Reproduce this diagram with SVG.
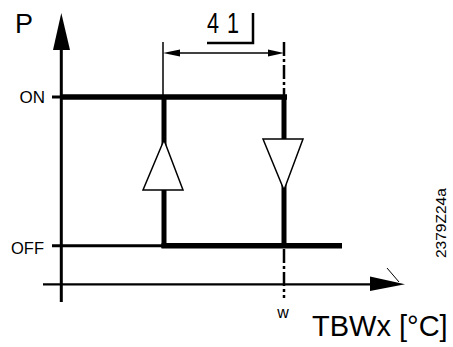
<svg xmlns="http://www.w3.org/2000/svg" width="453" height="347" viewBox="0 0 453 347">
<style>
.t{font-family:"Liberation Sans",Arial,sans-serif;fill:#000}
.thick{stroke:#000;stroke-width:5.5;fill:none}
.thin{stroke:#000;stroke-width:3;fill:none}
.tri{fill:#fff;stroke:#000;stroke-width:1.5}
</style>
<rect width="453" height="347" fill="#fff"/>
<g id="axes">
<line x1="61.3" y1="48" x2="61.3" y2="302" class="thin"/>
<polygon points="61.3,13 53,50 70,50" fill="#000"/>
<line x1="43" y1="284.3" x2="372" y2="284.3" stroke="#000" stroke-width="2.3"/>
<polygon points="405,284.3 370,276.5 370,291" fill="#000"/>
<line x1="387" y1="268" x2="399" y2="282" stroke="#000" stroke-width="1"/>
<text x="15" y="33" class="t" font-size="27">P</text>
<text x="312" y="336" class="t" font-size="29">TBWx [°C]</text>
<text x="283" y="318" class="t" font-size="16" text-anchor="middle">w</text>
<text transform="translate(446,258) rotate(-90)" class="t" font-size="15.5">2379Z24a</text>
</g>
<g id="on-level">
<line x1="52" y1="97" x2="62" y2="97" class="thin"/>
<line x1="61" y1="97" x2="287" y2="97" class="thick"/>
<text x="45" y="103" class="t" font-size="17" text-anchor="end">ON</text>
</g>
<g id="off-level">
<line x1="52" y1="245.8" x2="164" y2="245.8" class="thin"/>
<line x1="161.5" y1="245.8" x2="342" y2="245.8" class="thick"/>
<text x="44" y="254" class="t" font-size="16.5" text-anchor="end">OFF</text>
</g>
<g id="connectors">
<line x1="164" y1="97" x2="164" y2="248" stroke="#000" stroke-width="5"/>
<line x1="284" y1="97" x2="284" y2="248" stroke="#000" stroke-width="5"/>
<line x1="284" y1="42" x2="284" y2="298" stroke="#000" stroke-width="2.5" stroke-dasharray="14 3 3 3"/>
<line x1="163" y1="42" x2="163" y2="97" stroke="#000" stroke-width="1.5"/>
<line x1="170" y1="53" x2="276" y2="53" stroke="#000" stroke-width="1.5"/>
<polygon points="163,53 180,49.5 180,56.5" fill="#000"/>
<polygon points="284,53 268,49.5 268,56.5" fill="#000"/>
</g>
<g id="switch-on">
<polygon points="164,140 143,190 183,190" class="tri"/>
</g>
<g id="switch-off">
<polygon points="263,139 303,139 284,190" class="tri"/>
</g>
<g id="label-41">
<polyline points="207,43 253,43 253,13" fill="none" stroke="#000" stroke-width="2.5"/>
<text x="207" y="33" class="t" font-size="30" letter-spacing="11" transform="translate(207,0) scale(0.72,1) translate(-207,0)">41</text>
</g>
</svg>
